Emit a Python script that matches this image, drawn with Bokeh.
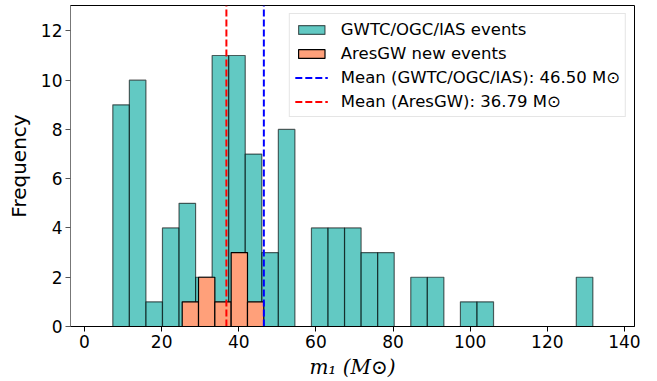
import numpy as np
from bokeh.plotting import figure
from bokeh.models import Range1d, FixedTicker, Legend, LegendItem
from bokeh.embed import file_html
from bokeh.resources import INLINE

# Primary-mass histogram counts (29 equal-width bins)
gwtc_counts = [9, 10, 1, 4, 5, 2, 11, 11, 7, 3, 8, 0, 4, 4, 4, 3, 3, 0, 2, 2,
               0, 1, 1, 0, 0, 0, 0, 0, 2]
gwtc_min, gwtc_max = 7.34, 131.8

# New AresGW events (5 equal-width bins)
ares_counts = [1, 2, 1, 3, 1]
ares_min, ares_max = 25.33, 46.49

mean_gwtc = 46.50
mean_ares = 36.79

x_ticks = [0, 20, 40, 60, 80, 100, 120, 140]
y_ticks = [0, 2, 4, 6, 8, 10, 12]

gwtc_edges = np.linspace(gwtc_min, gwtc_max, len(gwtc_counts) + 1)
ares_edges = np.linspace(ares_min, ares_max, len(ares_counts) + 1)

YMAX = 13.03

p = figure(width=657, height=381, output_backend="svg", toolbar_location=None,
           x_range=Range1d(-3.63, 142.6), y_range=Range1d(0, YMAX),
           min_border_left=70, min_border_right=23, min_border_top=5,
           min_border_bottom=54)

r_gwtc = p.quad(left=gwtc_edges[:-1], right=gwtc_edges[1:], bottom=0, top=gwtc_counts,
                fill_color="#20B2AA", fill_alpha=0.7,
                line_color="black", line_alpha=0.6, line_width=1.2)
r_ares = p.quad(left=ares_edges[:-1], right=ares_edges[1:], bottom=0, top=ares_counts,
                fill_color="#FFA07A", fill_alpha=1.0,
                line_color="black", line_width=1.2)

r_mg = p.line(x=[mean_gwtc, mean_gwtc], y=[0, YMAX], line_color="blue",
              line_width=2, line_dash="7 3")
r_ma = p.line(x=[mean_ares, mean_ares], y=[0, YMAX], line_color="red",
              line_width=2, line_dash="7 3")

legend = Legend(items=[
    LegendItem(label="GWTC/OGC/IAS events", renderers=[r_gwtc]),
    LegendItem(label="AresGW new events", renderers=[r_ares]),
    LegendItem(label=f"Mean (GWTC/OGC/IAS): {mean_gwtc:.2f} M⊙", renderers=[r_mg]),
    LegendItem(label=f"Mean (AresGW): {mean_ares:.2f} M⊙", renderers=[r_ma]),
], location="top_right")
legend.margin = 8
legend.padding = 5
legend.spacing = 4
legend.glyph_width = 33
legend.glyph_height = 11
legend.label_height = 20
legend.label_standoff = 13
legend.label_text_font = "DejaVu Sans"
legend.label_text_font_size = "16.5px"
legend.label_text_color = "black"
legend.border_line_color = "#cccccc"
legend.border_line_width = 1
legend.background_fill_alpha = 0.8
p.add_layout(legend)

p.xgrid.visible = False
p.ygrid.visible = False
p.outline_line_color = "black"
p.outline_line_width = 1

p.xaxis.ticker = FixedTicker(ticks=x_ticks)
p.yaxis.ticker = FixedTicker(ticks=y_ticks)
for ax in (p.xaxis, p.yaxis):
    ax.minor_tick_line_color = None
    ax.major_tick_in = 0
    ax.major_tick_out = 5
    ax.major_label_text_font = "DejaVu Sans"
    ax.major_label_text_font_size = "17px"
    ax.major_label_text_color = "black"
    ax.major_label_standoff = 3
    ax.axis_line_width = 1

p.xaxis.axis_line_color = "black"
p.yaxis.axis_line_color = "#777777"
p.xaxis.major_tick_line_color = "black"
p.yaxis.major_tick_line_color = "#555555"

p.xaxis.axis_label = "m₁ (M⊙)"
p.xaxis.axis_label_text_font = "DejaVu Serif"
p.xaxis.axis_label_text_font_style = "italic"
p.xaxis.axis_label_text_font_size = "20px"
p.xaxis.axis_label_text_color = "black"
p.xaxis.axis_label_standoff = 4

p.yaxis.axis_label = "Frequency"
p.yaxis.axis_label_text_font = "DejaVu Sans"
p.yaxis.axis_label_text_font_style = "normal"
p.yaxis.axis_label_text_font_size = "20px"
p.yaxis.axis_label_text_color = "black"
p.yaxis.axis_label_standoff = 7

p.background_fill_color = "white"
p.border_fill_color = "white"

open("out.html", "w").write(file_html(p, INLINE))
